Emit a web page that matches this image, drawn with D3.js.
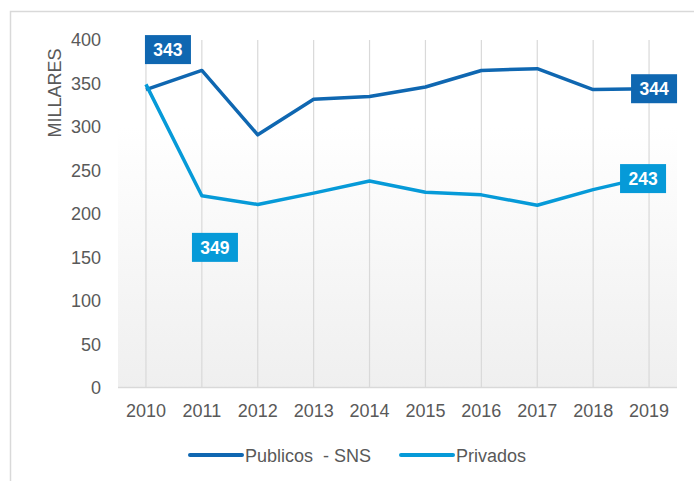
<!DOCTYPE html>
<html>
<head>
<meta charset="utf-8">
<script src="https://cdn.jsdelivr.net/npm/d3@7"></script>
<style>
  html, body { margin: 0; padding: 0; background: #fff; }
  svg { display: block; font-family: "Liberation Sans", Arial, sans-serif; }
</style>
</head>
<body>
<script>
// data
const years = ["2010","2011","2012","2013","2014","2015","2016","2017","2018","2019"];
const publicos = [343, 365, 291, 332, 335, 346, 365, 367, 343, 344];
const privados = [349, 221, 211, 224, 238, 225, 222, 210, 228, 243];
const yTicks = [0, 50, 100, 150, 200, 250, 300, 350, 400];
const seriesNames = ["Publicos  - SNS", "Privados"];
const seriesColors = ["#0f67b1", "#069ad8"];

const width = 694, height = 481;
const fs = "18px";
const svg = d3.select("body").append("svg").attr("width", width).attr("height", height);

// outer frame (clipped at right / bottom like the source)
svg.append("path")
  .attr("d", "M10.5," + height + " V11.5 H" + width)
  .attr("fill", "none").attr("stroke", "#d9d9d9").attr("stroke-width", 1.5);

const pLeft = 118, pRight = 677, pTop = 40, pBottom = 388;

const x = d3.scaleBand().domain(years).range([pLeft, pRight]);
const y = d3.scaleLinear().domain([0, 400]).range([pBottom, pTop]);
const cx = d => x(d) + x.bandwidth() / 2;

// plot background gradient
const defs = svg.append("defs");
const grad = defs.append("linearGradient").attr("id", "bg").attr("x1", 0).attr("y1", 0).attr("x2", 0).attr("y2", 1);
grad.append("stop").attr("offset", "0%").attr("stop-color", "#ffffff");
grad.append("stop").attr("offset", "25%").attr("stop-color", "#ffffff");
grad.append("stop").attr("offset", "100%").attr("stop-color", "#efefef");
svg.append("rect").attr("x", pLeft).attr("y", pTop).attr("width", pRight - pLeft).attr("height", pBottom - pTop)
  .attr("fill", "url(#bg)");

// vertical grid lines
svg.append("g").selectAll("line").data(years).join("line")
  .attr("x1", d => cx(d)).attr("x2", d => cx(d))
  .attr("y1", pTop).attr("y2", pBottom)
  .attr("stroke", "#d9d9d9").attr("stroke-width", 1.2);

// baseline
svg.append("line").attr("x1", pLeft).attr("x2", pRight).attr("y1", pBottom - 0.5).attr("y2", pBottom - 0.5)
  .attr("stroke", "#d9d9d9").attr("stroke-width", 1.5);

// y axis
const yAxis = svg.append("g").attr("transform", "translate(101,0)")
  .call(d3.axisLeft(y).tickValues(yTicks).tickSize(0).tickPadding(0));
yAxis.select(".domain").remove();
yAxis.selectAll("text").attr("font-size", fs).attr("fill", "#595959")
  .attr("font-family", "Liberation Sans, Arial, sans-serif");

// x axis
const xAxis = svg.append("g").attr("transform", "translate(0," + pBottom + ")")
  .call(d3.axisBottom(x).tickSize(0).tickPadding(16));
xAxis.select(".domain").remove();
xAxis.selectAll("text").attr("font-size", fs).attr("fill", "#595959")
  .attr("font-family", "Liberation Sans, Arial, sans-serif");

// axis title
svg.append("text")
  .attr("transform", "translate(61,93) rotate(-90)")
  .attr("text-anchor", "middle")
  .attr("font-size", fs).attr("fill", "#595959")
  .text("MILLARES");

// lines
const line = d3.line().x((d, i) => cx(years[i])).y(d => y(d));
[publicos, privados].forEach((s, k) => {
  svg.append("path").datum(s)
    .attr("d", line)
    .attr("fill", "none")
    .attr("stroke", seriesColors[k])
    .attr("stroke-width", 3.5)
    .attr("stroke-linejoin", "round");
});

// data labels (placement mimics the source, incl. the dragged 2010 private label)
const labels = [
  { s: 0, i: 0, dx: 22, dy: -40 },
  { s: 1, i: 0, dx: 69, dy: 163 },
  { s: 0, i: 9, dx: 5, dy: 0 },
  { s: 1, i: 9, dx: -6, dy: 2 }
];
const bw = 46, bh = 29;
labels.forEach(l => {
  const vals = l.s === 0 ? publicos : privados;
  const px = cx(years[l.i]) + l.dx, py = y(vals[l.i]) + l.dy;
  svg.append("rect").attr("x", px - bw / 2).attr("y", py - bh / 2).attr("width", bw).attr("height", bh)
    .attr("fill", seriesColors[l.s]);
  svg.append("text").attr("x", px).attr("y", py + 6.5)
    .attr("text-anchor", "middle").attr("font-size", "17.5px").attr("font-weight", "bold")
    .attr("fill", "#fff").text(vals[l.i]);
});

// legend
const legendX = [190, 401];
seriesNames.forEach((n, k) => {
  const g = svg.append("g").attr("transform", "translate(" + legendX[k] + ",455)");
  g.append("line").attr("x1", 0).attr("x2", 52).attr("y1", 0).attr("y2", 0)
    .attr("stroke", seriesColors[k]).attr("stroke-width", 4).attr("stroke-linecap", "round");
  g.append("text").attr("x", 55).attr("y", 6.5)
    .attr("font-size", fs).attr("fill", "#595959")
    .style("white-space", "pre").text(n);
});
</script>
</body>
</html>
